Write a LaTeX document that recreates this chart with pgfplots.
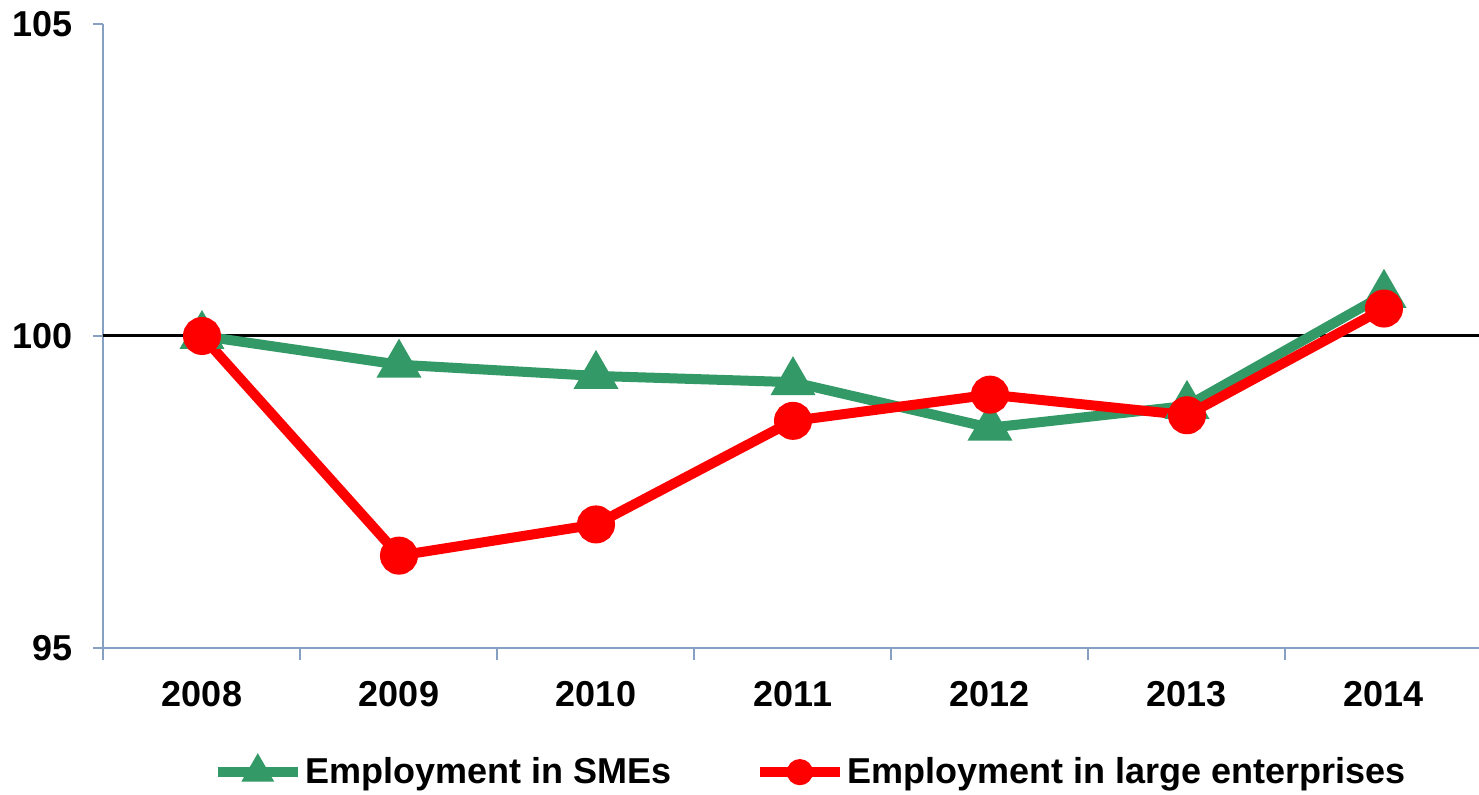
\documentclass[border=0pt]{standalone}
\usepackage{pgfplots}
\pgfplotsset{compat=1.18}
\usepackage{fontspec}
\setmainfont{Liberation Sans}
\definecolor{smegreen}{HTML}{339966}
\definecolor{axisblue}{RGB}{134,160,196}
\begin{document}
\begin{tikzpicture}
\begin{axis}[
  at={(0,0)}, anchor=south west,
  scale only axis, width=689.5pt, height=312pt,
  xmin=-0.5, xmax=6.5, ymin=95, ymax=105,
  axis lines*=left,
  axis line style={draw=axisblue, line width=1pt},
  xtick={0,...,6},
  xticklabels={2008,2009,2010,2011,2012,2013,2014},
  minor xtick={-0.5,0.5,...,6.5},
  ytick={95,100,105},
  tick align=outside,
  major tick length=5pt, minor tick length=6pt,
  tick style={draw=axisblue, line width=1pt},
  major x tick style={draw=none},
  ticklabel style={font=\fontsize{18}{21}\selectfont\bfseries},
  /pgf/number format/assume math mode=true,
  xticklabel style={yshift=-8pt},
  yticklabel style={xshift=-7pt},
  clip=false,
  legend columns=2,
  legend style={
    at={(0.513,-0.199)}, anchor=center, draw=none, fill=none,
    font=\fontsize{18}{21}\selectfont\bfseries,
    inner sep=0pt,
    /tikz/every even column/.append style={column sep=40pt},
    nodes={inner sep=1.5pt},
  },
  legend image code/.code={\draw[mark repeat=2,mark phase=2,#1] plot coordinates {(0pt,0pt) (20pt,0pt) (40pt,0pt)};},
]
\addplot[black, line width=1.5pt, forget plot] coordinates {(-0.5,100) (6.5,100)};
\addplot[smegreen, line width=5pt, mark=triangle*, mark size=8pt, mark options={solid, smegreen}, forget plot]
  coordinates {(0,100) (1,99.54) (2,99.36) (3,99.26) (4,98.53) (5,98.88) (6,100.66)};
\addplot[red, line width=5pt, mark=*, mark size=7pt, mark options={solid, red}, forget plot]
  coordinates {(0,100) (1,96.48) (2,96.98) (3,98.64) (4,99.06) (5,98.73) (6,100.44)};
\addlegendimage{smegreen, line width=5pt, mark=triangle*, mark size=4.5pt, mark options={solid, smegreen}}
\addlegendentry{Employment in SMEs}
\addlegendimage{red, line width=5pt, mark=*, mark size=4pt, mark options={solid, red}}
\addlegendentry{Employment in large enterprises}
\end{axis}
\pgfresetboundingbox
\path[use as bounding box] (-51.75pt,-73.5pt) rectangle (687.75pt,324pt);
\end{tikzpicture}
\end{document}
